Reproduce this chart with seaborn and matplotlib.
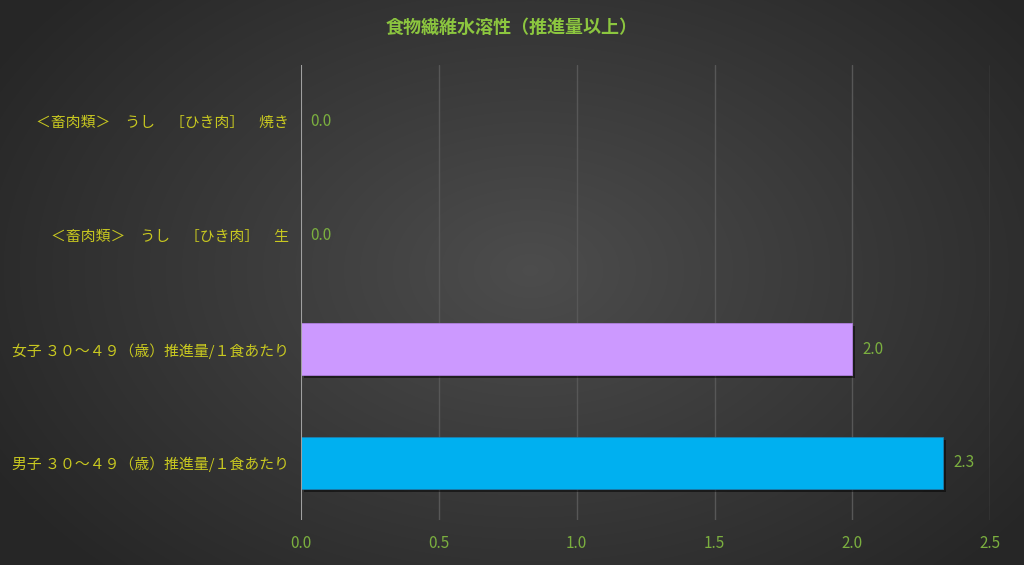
import numpy as np
import pandas as pd
import matplotlib
matplotlib.use("Agg")
import matplotlib.pyplot as plt
import matplotlib.patheffects as pe
import seaborn as sns

categories = ["＜畜肉類＞　うし　［ひき肉］　焼き",
              "＜畜肉類＞　うし　［ひき肉］　生",
              "女子 ３０～４９（歳）推進量/１食あたり",
              "男子 ３０～４９（歳）推進量/１食あたり"]
values = [0.0, 0.0, 2.0, 2.33]
bar_colors = ["#CC99FF", "#CC99FF", "#CC99FF", "#00B0F0"]
value_labels = ["0.0", "0.0", "2.0", "2.3"]
x_ticks = [0.0, 0.5, 1.0, 1.5, 2.0, 2.5]
title = "食物繊維水溶性（推進量以上）"

sns.set_theme(style="white")
plt.rcParams['font.family'] = ['Noto Sans CJK JP', 'DejaVu Sans']

fig = plt.figure(figsize=(10.24, 5.65), dpi=100)

# radial gradient background
bg = fig.add_axes([0, 0, 1, 1], zorder=-10)
yy, xx = np.mgrid[0:565, 0:1024]
r = np.sqrt(((xx - 530) / 620.0) ** 2 + ((yy - 270) / 420.0) ** 2)
r = np.clip(r, 0, 1)
shade = 0.30 - 0.15 * r
img = np.dstack([shade, shade, shade])
bg.imshow(img, aspect="auto", extent=[0, 1, 0, 1])
bg.axis("off")

ax = fig.add_axes([0.294, 0.080, 0.673, 0.805])
ax.patch.set_alpha(0)

df = pd.DataFrame({"cat": categories, "val": values})
sns.barplot(data=df, y="cat", x="val", hue="cat", palette=bar_colors,
            order=categories, hue_order=categories, legend=False,
            width=0.46, ax=ax, saturation=1, orient="h")

for p, c in zip(ax.patches, bar_colors):
    p.set_edgecolor("#1B7FB0" if c == "#00B0F0" else "#B080E0")
    p.set_linewidth(0.6)
    p.set_path_effects([pe.SimplePatchShadow(offset=(2, -2), alpha=0.5, shadow_rgbFace="black"),
                        pe.Normal()])

for i, (v, lab) in enumerate(zip(values, value_labels)):
    ax.text(v + 0.035, i, lab, va="center", ha="left", color="#7BAF3F", fontsize=11)

ax.set_xlim(0, 2.5)
ax.set_ylim(3.5, -0.5)
ax.set_xticks(x_ticks)
ax.set_xticklabels([f"{t:.1f}" for t in x_ticks], color="#7BAF3F", fontsize=11)
ax.tick_params(axis="x", length=0, pad=11)
ax.tick_params(axis="y", length=0, pad=9)
for lbl in ax.get_yticklabels():
    lbl.set_color("#C8C820")
    lbl.set_fontsize(10.7)
ax.set_xlabel("")
ax.set_ylabel("")
for t in x_ticks[1:]:
    ax.axvline(t, color="#575757", lw=1, zorder=0)
ax.axvline(0, color="#A0A0A0", lw=1.5, zorder=3)
for s in ax.spines.values():
    s.set_visible(False)

fig.text(0.5, 0.952, title, ha="center", va="center", color="#8CC63F",
         fontsize=13, fontweight="bold")

fig.savefig("out.png", dpi=100)
